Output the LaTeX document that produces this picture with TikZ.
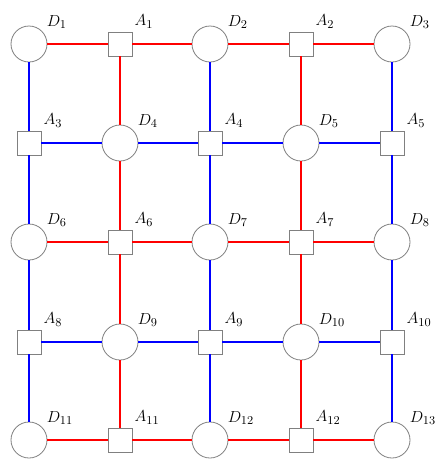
\documentclass[tikz,border=0pt]{standalone}
\usetikzlibrary{positioning}
\begin{document}
\begin{tikzpicture}[x=0.75pt,y=-0.75pt,font=\fontsize{13}{15}\selectfont,
  dnode/.style={circle,draw=black!50,line width=0.6pt,fill=white,minimum size=27pt,inner sep=0pt,
    label={[anchor=south west,inner sep=0pt,xshift=3.5pt,yshift=1.5pt]north east:$D_{#1}$}},
  anode/.style={rectangle,draw=black!50,line width=0.6pt,fill=white,minimum size=18pt,inner sep=0pt,
    label={[anchor=south west,inner sep=0pt,xshift=1.5pt,yshift=2.5pt]north east:$A_{#1}$}},
  redge/.style={draw=red,line width=1.4pt},
  bedge/.style={draw=blue,line width=1.4pt}]
  \useasboundingbox (0,0) rectangle (437,461);
  % row 1
  \node[dnode=1] (D1) at (29,44) {};  \node[anode=1] (A1) at (120,44) {};
  \node[dnode=2] (D2) at (210,44) {}; \node[anode=2] (A2) at (301,44) {};
  \node[dnode=3] (D3) at (392,44) {};
  % row 2
  \node[anode=3] (A3) at (29,143) {};  \node[dnode=4] (D4) at (120,143) {};
  \node[anode=4] (A4) at (210,143) {}; \node[dnode=5] (D5) at (301,143) {};
  \node[anode=5] (A5) at (392,143) {};
  % row 3
  \node[dnode=6] (D6) at (29,242) {};  \node[anode=6] (A6) at (120,242) {};
  \node[dnode=7] (D7) at (210,242) {}; \node[anode=7] (A7) at (301,242) {};
  \node[dnode=8] (D8) at (392,242) {};
  % row 4
  \node[anode=8] (A8) at (29,342) {};  \node[dnode=9] (D9) at (120,342) {};
  \node[anode=9] (A9) at (210,342) {}; \node[dnode=10] (D10) at (301,342) {};
  \node[anode=10] (A10) at (392,342) {};
  % row 5
  \node[dnode=11] (D11) at (29,440) {};  \node[anode=11] (A11) at (120,440) {};
  \node[dnode=12] (D12) at (210,440) {}; \node[anode=12] (A12) at (301,440) {};
  \node[dnode=13] (D13) at (392,440) {};
  % horizontal links
  \draw[redge] (D1)--(A1)--(D2)--(A2)--(D3);
  \draw[bedge] (A3)--(D4)--(A4)--(D5)--(A5);
  \draw[redge] (D6)--(A6)--(D7)--(A7)--(D8);
  \draw[bedge] (A8)--(D9)--(A9)--(D10)--(A10);
  \draw[redge] (D11)--(A11)--(D12)--(A12)--(D13);
  % vertical links
  \draw[bedge] (D1)--(A3)--(D6)--(A8)--(D11);
  \draw[redge] (A1)--(D4)--(A6)--(D9)--(A11);
  \draw[bedge] (D2)--(A4)--(D7)--(A9)--(D12);
  \draw[redge] (A2)--(D5)--(A7)--(D10)--(A12);
  \draw[bedge] (D3)--(A5)--(D8)--(A10)--(D13);
\end{tikzpicture}
\end{document}
